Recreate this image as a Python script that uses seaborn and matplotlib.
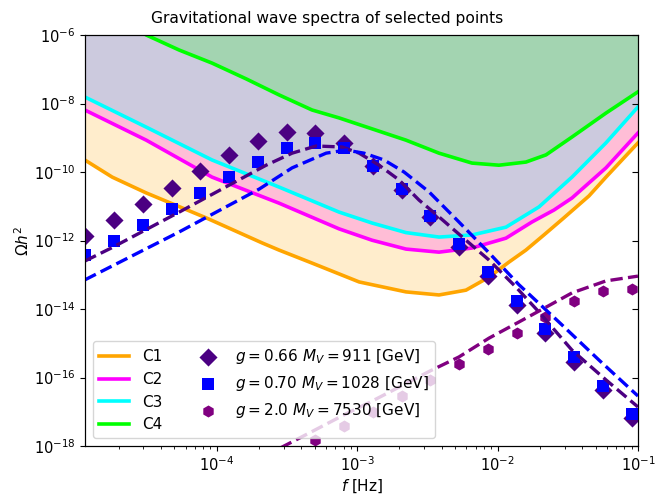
import matplotlib
matplotlib.use("Agg")
import matplotlib.pyplot as plt
import seaborn as sns

# ---------------- data ----------------
freq = [1.156e-5, 1.854e-5, 2.972e-5, 4.764e-5, 7.638e-5, 1.225e-4, 1.959e-4,
        3.141e-4, 5.035e-4, 8.072e-4, 1.294e-3, 2.075e-3, 3.327e-3, 5.333e-3,
        8.551e-3, 1.371e-2, 2.193e-2, 3.516e-2, 5.636e-2, 9.036e-2]

omega_a = [1.35e-12, 4.0e-12, 1.17e-11, 3.4e-11, 1.07e-10, 3.2e-10, 8.1e-10,
           1.48e-9, 1.38e-9, 7.1e-10, 1.51e-10, 2.95e-11, 4.9e-12, 6.5e-13,
           9.1e-14, 1.32e-14, 2.0e-15, 2.8e-16, 4.3e-17, 6.6e-18]
omega_b = [3.8e-13, 9.8e-13, 2.8e-12, 8.3e-12, 2.45e-11, 7.1e-11, 1.95e-10,
           5.0e-10, 7.1e-10, 5.0e-10, 1.51e-10, 3.2e-11, 5.2e-12, 7.9e-13,
           1.2e-13, 1.7e-14, 2.6e-15, 4.0e-16, 5.6e-17, 8.5e-18]
freq_c = freq[8:]
omega_c = [1.5e-18, 3.8e-18, 9.8e-18, 2.9e-17, 8.5e-17, 2.45e-16, 6.8e-16,
           2.0e-15, 5.9e-15, 1.7e-14, 3.4e-14, 3.8e-14]

labels_pts = [r"$g = 0.66\ M_V = 911$ [GeV]",
              r"$g = 0.70\ M_V = 1028$ [GeV]",
              r"$g = 2.0\ M_V = 7530$ [GeV]"]

# fitted spectra (dashed)
fit_a_f = [1.15e-5, 1.774e-5, 5.408e-5, 2.249e-4, 3.443e-4, 5.105e-4, 7.816e-4,
           1.033e-3, 1.432e-3, 1.986e-3, 2.761e-3, 3.828e-3, 5.957e-3, 8.690e-3,
           1.352e-2, 1.972e-2, 3.388e-2, 5.916e-2, 0.1]
fit_a = [2.51e-13, 6.03e-13, 6.76e-12, 1.58e-10, 3.55e-10, 5.75e-10, 5.37e-10,
         3.55e-10, 1.58e-10, 5.89e-11, 1.51e-11, 4.90e-12, 1.02e-12, 2.69e-13,
         4.37e-14, 8.13e-15, 6.31e-16, 8.51e-17, 1.38e-17]
fit_b_f = [1.15e-5, 5.408e-5, 2.004e-4, 3.443e-4, 6.012e-4, 8.337e-4, 1.119e-3,
           1.556e-3, 2.158e-3, 3.251e-3, 5.309e-3, 8.690e-3, 1.419e-2, 2.735e-2,
           5.272e-2, 0.1]
fit_b = [7.08e-14, 1.78e-12, 3.16e-11, 1.32e-10, 3.55e-10, 4.37e-10, 3.55e-10,
         2.24e-10, 1.0e-10, 2.63e-11, 3.47e-12, 4.37e-13, 5.13e-14, 4.17e-15,
         3.24e-16, 2.88e-17]
fit_c_f = [1.698e-4, 2.924e-4, 5.023e-4, 8.072e-4, 1.276e-3, 2.056e-3, 3.304e-3,
           5.309e-3, 8.690e-3, 1.419e-2, 1.972e-2, 3.388e-2, 5.916e-2, 0.1]
fit_c = [2.95e-19, 9.33e-19, 2.95e-18, 8.13e-18, 2.04e-17, 5.62e-17, 1.55e-16,
         3.98e-16, 1.41e-15, 4.17e-15, 8.71e-15, 2.95e-14, 6.61e-14, 9.12e-14]

# sensitivity curves
c1_f = [1.15e-5, 1.803e-5, 3.148e-5, 8.414e-5, 2.104e-4, 2.780e-4, 4.775e-4,
        1.033e-3, 2.228e-3, 3.828e-3, 5.957e-3, 8.690e-3, 1.205e-2, 1.592e-2,
        2.138e-2, 2.965e-2, 4.477e-2, 5.916e-2, 0.1]
c1 = [2.24e-10, 7.08e-11, 2.45e-11, 4.57e-12, 8.51e-13, 5.25e-13, 2.19e-13,
      6.17e-14, 3.16e-14, 2.57e-14, 3.55e-14, 8.51e-14, 2.34e-13, 5.25e-13,
      1.45e-12, 4.57e-12, 2.0e-11, 7.08e-11, 7.08e-10]
c2_f = [1.15e-5, 3.148e-5, 9.268e-5, 2.780e-4, 7.430e-4, 1.276e-3, 2.228e-3,
        3.828e-3, 6.577e-3, 1.148e-2, 1.758e-2, 2.523e-2, 3.388e-2, 5.916e-2, 0.1]
c2 = [6.46e-9, 8.51e-10, 7.08e-11, 1.23e-11, 2.19e-12, 1.02e-12, 5.62e-13,
      4.57e-13, 6.03e-13, 1.17e-12, 3.47e-12, 7.76e-12, 1.74e-11, 1.32e-10, 1.38e-9]
c3_f = [1.15e-5, 3.148e-5, 9.268e-5, 2.780e-4, 7.430e-4, 1.276e-3, 2.228e-3,
        3.828e-3, 6.577e-3, 1.148e-2, 1.972e-2, 3.388e-2, 5.916e-2, 0.1]
c3 = [1.55e-8, 2.04e-9, 2.24e-10, 3.63e-11, 6.76e-12, 3.24e-12, 1.70e-12,
      1.26e-12, 1.45e-12, 2.45e-12, 9.55e-12, 7.08e-11, 7.08e-10, 7.94e-9]
c4_f = [2.382e-5, 3.148e-5, 5.408e-5, 9.268e-5, 1.618e-4, 2.780e-4, 4.775e-4,
        7.430e-4, 1.276e-3, 2.228e-3, 3.828e-3, 6.577e-3, 1.023e-2, 1.592e-2,
        2.213e-2, 3.388e-2, 5.916e-2, 0.1]
c4 = [1.95e-6, 1.0e-6, 3.63e-7, 1.51e-7, 5.25e-8, 1.78e-8, 6.46e-9, 3.80e-9,
      1.82e-9, 8.51e-10, 3.55e-10, 1.82e-10, 1.58e-10, 1.95e-10, 3.16e-10,
      1.05e-9, 5.25e-9, 2.19e-8]
curve_names = ["C1", "C2", "C3", "C4"]

x_ticks = [1e-4, 1e-3, 1e-2, 1e-1]
y_ticks = [1e-18, 1e-16, 1e-14, 1e-12, 1e-10, 1e-8, 1e-6]

# ---------------- plotting ----------------
fig, ax = plt.subplots(figsize=(6.55, 5.0), dpi=100)
fig.subplots_adjust(left=0.130, right=0.974, top=0.93, bottom=0.108)
ax.set_xscale("log")
ax.set_yscale("log")

curves = [(c1_f, c1, "orange"), (c2_f, c2, "#ff00ff"),
          (c3_f, c3, "#00ffff"), (c4_f, c4, "#00ff00")]
for fx, om, col in curves:
    ax.fill_between(fx, om, 1.0, color=col, alpha=0.2, linewidth=0, zorder=1)
for (fx, om, col), name in zip(curves, curve_names):
    sns.lineplot(x=fx, y=om, color=col, lw=2.6, label=name, ax=ax, zorder=2,
                 sort=False)

sns.scatterplot(x=freq, y=omega_a, marker="D", s=85, color="indigo",
                linewidth=0, label=labels_pts[0], ax=ax, zorder=3)
sns.scatterplot(x=freq, y=omega_b, marker="s", s=70, color="blue",
                linewidth=0, label=labels_pts[1], ax=ax, zorder=3)
sns.scatterplot(x=freq_c, y=omega_c, marker="h", s=75, color="purple",
                linewidth=0, label=labels_pts[2], ax=ax, zorder=3)

sns.lineplot(x=fit_a_f, y=fit_a, color="indigo", lw=2.4, linestyle="--",
             ax=ax, zorder=4, sort=False, legend=False)
sns.lineplot(x=fit_b_f, y=fit_b, color="blue", lw=2.4, linestyle="--",
             ax=ax, zorder=4, sort=False, legend=False)
sns.lineplot(x=fit_c_f, y=fit_c, color="purple", lw=2.4, linestyle="--",
             ax=ax, zorder=4, sort=False, legend=False)

ax.set_xlim(1.156e-5, 0.1)
ax.set_ylim(1e-18, 1e-6)
ax.set_xticks(x_ticks)
ax.set_yticks(y_ticks)
ax.yaxis.set_minor_locator(matplotlib.ticker.NullLocator())
fig.text(0.5, 0.963, "Gravitational wave spectra of selected points",
         fontsize=11.2, ha="center", va="center")
ax.set_xlabel("$f$ [Hz]", fontsize=11, labelpad=2)
ax.set_ylabel(r"$\Omega h^2$", fontsize=11, labelpad=1)
ax.tick_params(axis="both", labelsize=10.5)

# inward ticks on the right spine
ax_r = ax.twinx()
ax_r.set_yscale("log")
ax_r.set_ylim(1e-18, 1e-6)
ax_r.set_yticks(y_ticks)
ax_r.yaxis.set_minor_locator(matplotlib.ticker.NullLocator())
ax_r.tick_params(axis="y", direction="in", labelright=False, length=4)

handles, labels = ax.get_legend_handles_labels()
ax.legend(handles, labels, ncol=2, loc="lower left", fontsize=11)

fig.savefig("out.png", dpi=100)
